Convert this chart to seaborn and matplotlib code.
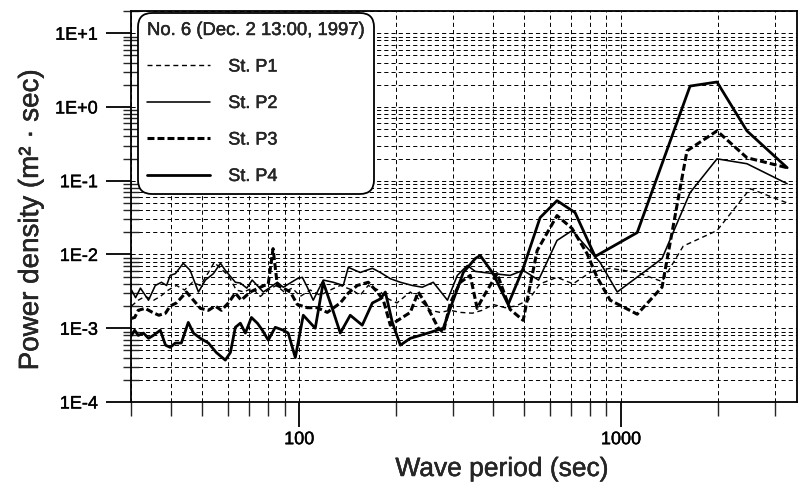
import numpy as np
import pandas as pd
import matplotlib
matplotlib.use("Agg")
import matplotlib.pyplot as plt
import matplotlib.patheffects as pe
import seaborn as sns
from matplotlib.ticker import FixedLocator, LogLocator, FuncFormatter, NullFormatter
from matplotlib.lines import Line2D

# ---------------- data ----------------
stations = ["St. P1", "St. P2", "St. P3", "St. P4"]
legend_title = "No. 6 (Dec. 2 13:00, 1997)"
x_label = "Wave period (sec)"
y_label = "Power density (m² · sec)"
x_major_ticks = [100, 1000]
y_major_ticks = [1e-4, 1e-3, 1e-2, 1e-1, 1e0, 1e1]

p1_period = [30.1, 31.6, 33.2, 35.3, 37.0, 39.2, 41.5, 44.0, 46.6, 49.3,
             52.2, 54.4, 56.9, 60.2, 63.7, 67.3, 71.4, 75.7, 80.1, 84.8,
             89.8, 95.1, 100.7, 108.2, 116.2, 124.8, 134.1, 146.0, 154.6, 163.8,
             176.0, 189.0, 201.0, 221.3, 237.6, 255.4, 274.0, 294.6, 316.5, 345.0,
             370.0, 400.2, 436.0, 470.0, 515.0, 560.1, 632.2, 709.0, 801.2, 924.7,
             1122, 1340, 1560, 1986, 2518, 3281]
p1_value = [0.0020, 0.0024, 0.0027, 0.0024, 0.0027, 0.0033, 0.0038, 0.0033, 0.0042, 0.0038,
            0.0057, 0.0078, 0.0065, 0.0052, 0.0033, 0.0031, 0.0035, 0.0027, 0.0033, 0.0038,
            0.0031, 0.0035, 0.0027, 0.0033, 0.0028, 0.0033, 0.0038, 0.0033, 0.0028, 0.0038,
            0.0033, 0.0025, 0.0022, 0.0031, 0.0024, 0.00175, 0.00164, 0.00175, 0.00164, 0.0016,
            0.00175, 0.0021, 0.0019, 0.0020, 0.0024, 0.0040, 0.0049, 0.0040, 0.0057, 0.0065,
            0.0057, 0.0043, 0.0130, 0.0211, 0.078, 0.050]

p2_period = [30.1, 31.0, 32.1, 34.0, 35.7, 37.3, 38.7, 39.7, 41.2, 43.6,
             45.8, 48.6, 51.1, 54.1, 56.9, 58.9, 63.3, 65.6, 68.7, 71.4,
             77.3, 81.3, 85.5, 89.2, 98.6, 102.2, 105.9, 110.5, 118.7, 127.5,
             137.0, 142.0, 154.6, 168.7, 178.6, 191.8, 206.1, 224.5, 241.1, 260.8,
             288.7, 309.8, 332.7, 352.2, 400.2, 452.0, 496.2, 554.0, 632.2, 704.2,
             860.5, 972.8, 1340, 1638, 1986, 2460, 3281]
p2_value = [0.0033, 0.0026, 0.0035, 0.0024, 0.0038, 0.0042, 0.0038, 0.0052, 0.0055, 0.0076,
            0.0061, 0.0031, 0.0045, 0.0055, 0.0076, 0.0061, 0.0042, 0.0041, 0.0035, 0.0045,
            0.0031, 0.0036, 0.0042, 0.0036, 0.0047, 0.0049, 0.0036, 0.0024, 0.0045, 0.0042,
            0.0038, 0.0067, 0.0057, 0.0065, 0.0057, 0.0047, 0.0042, 0.0038, 0.0036, 0.0042,
            0.0024, 0.0052, 0.0071, 0.0059, 0.0055, 0.0052, 0.0061, 0.0045, 0.0155, 0.0211,
            0.0078, 0.0031, 0.0088, 0.0689, 0.198, 0.170, 0.091]

p3_period = [30.1, 30.8, 31.6, 33.2, 35.0, 36.6, 38.4, 39.7, 41.5, 43.0,
             44.6, 46.9, 49.3, 52.2, 54.8, 57.3, 60.2, 63.3, 66.0, 70.4,
             75.7, 80.1, 82.9, 85.5, 89.2, 93.8, 98.6, 105.9, 113.7, 122.2,
             134.1, 142.0, 151.4, 163.8, 174.7, 182.5, 191.8, 221.3, 234.2, 246.3,
             270.6, 280.2, 294.6, 316.5, 339.8, 357.0, 370.0, 411.9, 452.0, 496.2,
             548.4, 632.2, 704.2, 783.7, 842.3, 924.7, 1122, 1340, 1602, 1986,
             2460, 3281]
p3_value = [0.00136, 0.0014, 0.00175, 0.00186, 0.00164, 0.0015, 0.0016, 0.0020, 0.0022, 0.0026,
            0.0031, 0.0024, 0.00186, 0.00175, 0.0020, 0.00175, 0.0022, 0.0030, 0.0024, 0.0031,
            0.0036, 0.0040, 0.0120, 0.0038, 0.0035, 0.0031, 0.0021, 0.0019, 0.0019, 0.00164,
            0.0022, 0.0030, 0.0038, 0.0042, 0.0031, 0.0024, 0.0011, 0.00164, 0.0031, 0.0022,
            0.0010, 0.00088, 0.0022, 0.0042, 0.0052, 0.00186, 0.0025, 0.0055, 0.0018, 0.00128,
            0.0113, 0.0337, 0.0225, 0.0103, 0.0049, 0.0024, 0.00155, 0.0036, 0.254, 0.474,
            0.205, 0.150]

p4_period = [30.1, 30.8, 31.6, 32.8, 34.0, 35.2, 37.0, 38.4, 39.7, 41.2,
             43.0, 45.2, 46.9, 49.3, 52.2, 55.2, 58.9, 61.1, 63.3, 65.6,
             68.0, 71.0, 74.1, 76.8, 80.1, 84.2, 89.2, 92.4, 97.2, 102.9,
             112.1, 118.7, 126.6, 134.1, 144.0, 156.9, 168.7, 178.6, 185.1, 194.6,
             206.1, 221.3, 237.6, 255.4, 280.2, 294.6, 323.3, 352.2, 364.9, 400.2,
             445.7, 496.2, 560.1, 632.2, 719.3, 830.3, 1122, 1638, 1986, 2460,
             3281]
p4_value = [0.00080, 0.00094, 0.00080, 0.00086, 0.00073, 0.00080, 0.00094, 0.00059, 0.00055, 0.00063,
            0.00063, 0.0012, 0.00086, 0.00073, 0.00063, 0.00047, 0.00037, 0.00047, 0.00103, 0.00117,
            0.00086, 0.0014, 0.00117, 0.00094, 0.00069, 0.00103, 0.00094, 0.00086, 0.00040, 0.0015,
            0.0010, 0.0042, 0.00186, 0.00086, 0.0015, 0.0011, 0.0022, 0.0025, 0.0031, 0.0012,
            0.00059, 0.00073, 0.00080, 0.00088, 0.0010, 0.00186, 0.0057, 0.0088, 0.0097, 0.0055,
            0.0021, 0.0065, 0.0316, 0.0537, 0.037, 0.0094, 0.0198, 1.92, 2.18, 0.474,
            0.150]

# ---------------- styling ----------------
sns.set_style("ticks")
plt.rcParams["font.family"] = ["Liberation Sans", "DejaVu Sans"]
plt.rcParams["lines.scale_dashes"] = False
plt.rcParams["axes.linewidth"] = 1.3

heavy = [pe.withStroke(linewidth=0.3, foreground="black")]

line_styles = {
    "St. P1": dict(linewidth=1.0, linestyle=(0, (3.6, 2.6))),
    "St. P2": dict(linewidth=1.15, linestyle="-"),
    "St. P3": dict(linewidth=2.2, linestyle=(0, (5.0, 2.2))),
    "St. P4": dict(linewidth=2.0, linestyle="-"),
}

series = [
    ("St. P1", p1_period, p1_value),
    ("St. P2", p2_period, p2_value),
    ("St. P3", p3_period, p3_value),
    ("St. P4", p4_period, p4_value),
]

W, H = 807, 490
fig = plt.figure(figsize=(W / 100, H / 100), dpi=100)
ax = fig.add_axes([131 / W, 1 - 402 / H, (797 - 131) / W, (402 - 11) / H])
ax.set_xscale("log")
ax.set_yscale("log")

for name, per, val in series:
    df = pd.DataFrame({"period": per, "value": val})
    sns.lineplot(data=df, x="period", y="value", ax=ax, color="black",
                 estimator=None, sort=False, legend=False, zorder=3,
                 **line_styles[name])

ax.set_xlim(30, 3520)
ax.set_ylim(1e-4, 20)

# ticks
ax.xaxis.set_major_locator(FixedLocator(x_major_ticks))
ax.xaxis.set_major_formatter(FuncFormatter(lambda v, p: f"{v:g}"))
ax.xaxis.set_minor_locator(LogLocator(base=10, subs=np.arange(2, 10), numticks=20))
ax.xaxis.set_minor_formatter(NullFormatter())
ax.yaxis.set_major_locator(FixedLocator(y_major_ticks))
ax.yaxis.set_major_formatter(FuncFormatter(lambda v, p: f"1E{int(round(np.log10(v))):+d}"))
ax.yaxis.set_minor_locator(LogLocator(base=10, subs=np.arange(2, 10), numticks=20))
ax.yaxis.set_minor_formatter(NullFormatter())

ax.tick_params(axis="both", which="major", direction="out", length=18, width=1.3,
               labelsize=13, colors="black")
ax.tick_params(axis="y", which="major", pad=6)
ax.tick_params(axis="x", which="major", pad=3)
ax.tick_params(axis="y", which="minor", direction="inout", length=11, width=1.0)
ax.tick_params(axis="x", which="minor", direction="out", length=10, width=1.0)

# dashed grid on major and minor positions
ax.grid(True, which="both", axis="both", color="black", linewidth=0.7,
        linestyle=(0, (3.0, 2.2)), zorder=1)
ax.set_axisbelow(True)

for s in ax.spines.values():
    s.set_visible(True)
    s.set_color("black")

ax.set_xlabel(x_label, fontsize=19)
ax.set_ylabel(y_label, fontsize=20)
ax.xaxis.set_label_coords((502 - 131) / 666, (402 - 457) / 391)
ax.yaxis.set_label_coords((44 - 131) / 666, (402 - 220) / 391)

# legend
handles = [Line2D([], [], color="black", **line_styles[n]) for n in stations]
leg = ax.legend(handles, stations, title=legend_title, loc="upper left",
                bbox_to_anchor=(0.0105, 0.995), borderaxespad=0,
                fontsize=13, title_fontsize=13.3,
                frameon=True, fancybox=True, framealpha=1, edgecolor="black",
                handlelength=3.5, handletextpad=1.0, labelspacing=1.08,
                borderpad=0.5, alignment="left")
frame = leg.get_frame()
frame.set_linewidth(1.3)
frame.set_boxstyle("round,pad=0,rounding_size=0.8")
leg.set_zorder(5)

for t in ([ax.xaxis.label, ax.yaxis.label, leg.get_title()]
          + ax.get_xticklabels() + ax.get_yticklabels() + leg.get_texts()):
    t.set_path_effects(heavy)

fig.savefig("out.png", dpi=100)
